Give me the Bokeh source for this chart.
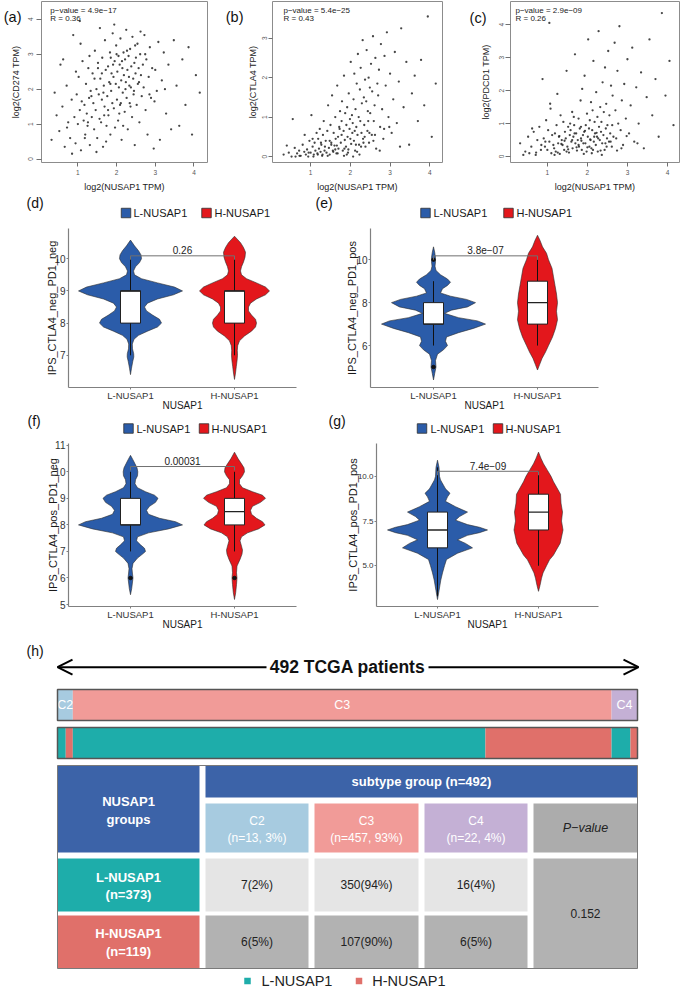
from bokeh.plotting import figure
from bokeh.models import (Range1d, Arrow, OpenHead, FixedTicker, PrintfTickFormatter,
                          LinearAxis, CustomJSTickFormatter)
from bokeh.layouts import column, row
from bokeh.embed import file_html
from bokeh.resources import INLINE
from bokeh.core.properties import value

FONT = "Liberation Sans"

# ---------------- scatter data (a)-(c) ----------------
nusap1_x = [0.32, 0.45, 0.52, 0.60, 0.66, 0.71, 0.75, 0.80, 0.84, 0.88,
            0.91, 0.94, 0.97, 1.00, 1.02, 1.05, 1.08, 1.10, 1.12, 1.15,
            1.17, 1.19, 1.21, 1.23, 1.25, 1.27, 1.29, 1.31, 1.33, 1.36,
            1.38, 1.40, 1.42, 1.44, 1.46, 1.48, 1.50, 1.52, 1.54, 1.56,
            1.58, 1.60, 1.62, 1.63, 1.65, 1.67, 1.69, 1.70, 1.72, 1.74,
            1.76, 1.78, 1.79, 1.81, 1.83, 1.84, 1.86, 1.87, 1.89, 1.90,
            1.92, 1.93, 1.95, 1.96, 1.98, 1.99, 2.01, 2.02, 2.04, 2.05,
            2.06, 2.08, 2.09, 2.10, 2.12, 2.13, 2.15, 2.16, 2.18, 2.19,
            2.21, 2.22, 2.24, 2.25, 2.26, 2.28, 2.29, 2.31, 2.32, 2.34,
            2.35, 2.37, 2.38, 2.40, 2.41, 2.43, 2.44, 2.46, 2.47, 2.49,
            2.50, 2.52, 2.54, 2.55, 2.57, 2.59, 2.61, 2.63, 2.65, 2.68,
            2.70, 2.72, 2.75, 2.77, 2.80, 2.83, 2.86, 2.89, 2.92, 2.96,
            3.00, 3.04, 3.08, 3.12, 3.17, 3.22, 3.28, 3.34, 3.41, 3.48,
            3.55, 3.62, 3.70, 3.78, 3.86, 3.95, 4.05, 4.15, 0.55, 1.05,
            0.72, 0.95, 1.18, 1.35, 1.52, 1.68, 1.85, 2.00, 2.17, 2.33,
            1.30, 1.48, 1.62, 1.78, 1.94, 2.11, 2.27, 2.45, 2.62, 2.85,
            0.40, 0.62, 0.85, 1.07, 1.26, 1.43, 1.57, 1.73, 1.91, 2.07,
            2.14, 2.23, 2.36, 2.48, 2.58, 2.74, 2.98, 3.25, 1.84, 1.66]
cd274_y = [0.55, 1.25, 0.80, 1.50, 0.35, 2.10, 1.05, 0.60, 1.70, 3.55,
           1.20, 0.45, 1.85, 1.00, 2.35, 1.40, 0.25, 1.65, 2.80, 1.10,
           1.55, 0.70, 2.15, 1.30, 0.95, 2.60, 1.75, 0.40, 1.95, 1.20,
           2.45, 1.60, 0.85, 3.10, 1.40, 2.00, 0.60, 2.75, 1.85, 1.15,
           2.30, 1.05, 1.70, 2.90, 0.35, 2.10, 1.50, 3.40, 2.55, 0.95,
           1.80, 2.65, 1.25, 2.20, 3.05, 0.70, 1.95, 2.45, 1.60, 3.60,
           2.35, 1.45, 2.80, 0.90, 2.15, 3.25, 1.70, 2.50, 1.10, 2.95,
           2.05, 2.70, 1.55, 3.45, 2.25, 0.55, 2.60, 1.90, 3.05, 2.40,
           1.35, 2.85, 2.20, 3.70, 1.75, 2.55, 0.85, 2.95, 2.35, 1.60,
           3.15, 2.05, 2.65, 1.20, 3.50, 2.30, 1.85, 2.75, 0.40, 2.45,
           2.90, 1.55, 3.30, 2.15, 2.60, 1.05, 3.00, 2.40, 1.80, 2.70,
           2.05, 3.55, 1.40, 2.85, 0.70, 2.35, 3.20, 1.75, 2.60, 0.30,
           2.55, 1.95, 3.35, 0.55, 2.25, 3.05, 1.30, 2.70, 0.85, 3.40,
           2.10, 0.95, 2.85, 1.55, 3.20, 0.70, 2.40, 1.90, 2.70, 3.95,
           0.90, 2.50, 0.60, 1.80, 2.60, 1.25, 2.90, 3.00, 0.95, 2.10,
           2.95, 0.20, 2.45, 1.40, 3.85, 1.60, 3.10, 1.95, 3.65, 1.85,
           1.90, 2.85, 0.15, 3.30, 1.05, 2.30, 3.75, 0.50, 2.70, 1.30,
           2.80, 2.00, 1.50, 3.25, 2.20, 3.00, 1.65, 2.00, 2.15, 1.90]
ctla4_y = [0.05, 0.10, 0.00, 0.22, 0.08, 0.15, 0.02, 0.30, 0.12, 0.05,
           0.18, 0.00, 0.40, 0.10, 1.05, 0.25, 0.05, 0.35, 0.15, 0.60,
           0.08, 0.45, 0.20, 0.70, 0.12, 0.30, 0.02, 0.55, 0.90, 0.25,
           0.40, 0.10, 0.65, 1.30, 0.22, 0.05, 0.80, 0.35, 1.55, 0.15,
           0.60, 0.28, 1.00, 0.45, 0.08, 1.80, 0.50, 0.20, 0.75, 1.15,
           0.35, 0.90, 1.40, 0.15, 0.65, 2.05, 0.42, 1.10, 0.25, 0.80,
           1.25, 0.50, 0.18, 1.60, 0.70, 0.95, 2.40, 0.32, 1.05, 0.60,
           0.85, 1.45, 0.40, 2.10, 0.15, 1.20, 0.75, 1.85, 0.55, 2.60,
           1.00, 0.30, 1.70, 0.90, 2.25, 0.60, 1.35, 2.95, 0.45, 1.50,
           0.80, 1.95, 0.25, 1.40, 2.70, 0.65, 1.15, 2.00, 0.35, 1.75,
           1.10, 2.35, 0.55, 1.65, 3.05, 0.90, 1.30, 2.50, 0.20, 1.85,
           1.55, 2.20, 0.75, 2.85, 1.20, 0.45, 2.55, 1.80, 3.15, 1.00,
           2.10, 0.60, 1.45, 2.65, 0.85, 1.90, 3.25, 1.25, 2.40, 0.30,
           1.60, 2.05, 0.90, 2.45, 1.30, 3.55, 0.50, 1.85, 0.95, 0.45,
           0.02, 0.10, 0.05, 0.15, 0.30, 0.08, 0.20, 0.45, 0.12, 0.35,
           0.05, 0.40, 0.18, 0.55, 0.10, 0.65, 0.25, 0.90, 0.55, 0.70,
           0.28, 0.00, 0.55, 0.00, 0.35, 0.02, 0.12, 0.70, 0.05, 0.00,
           0.30, 0.05, 0.50, 0.60, 0.40, 0.15, 0.75, 0.25, 0.02, 0.28]
pdcd1_y = [0.40, 0.15, 0.60, 0.30, 0.75, 0.05, 0.50, 0.90, 0.20, 2.35,
           0.55, 0.30, 1.10, 0.20, 0.80, 0.45, 1.45, 0.10, 0.65, 0.35,
           0.25, 0.70, 0.15, 0.95, 1.90, 0.40, 0.60, 0.08, 1.25, 0.50,
           0.35, 1.05, 0.20, 0.75, 0.55, 2.60, 0.30, 0.90, 0.12, 0.65,
           0.80, 0.45, 1.35, 0.25, 0.60, 0.95, 3.10, 0.40, 0.70, 0.18,
           0.50, 1.15, 0.30, 0.85, 1.70, 0.55, 0.20, 2.05, 0.65, 0.40,
           0.75, 2.45, 0.40, 0.95, 0.15, 1.30, 0.60, 3.55, 0.85, 0.30,
           1.10, 0.50, 1.65, 0.25, 0.80, 1.40, 2.90, 0.45, 1.05, 0.70,
           0.35, 1.95, 0.60, 1.20, 0.15, 3.80, 0.90, 0.50, 1.50, 0.75,
           1.05, 0.40, 2.25, 0.65, 1.35, 0.20, 2.70, 0.85, 1.60, 0.55,
           0.95, 3.20, 0.45, 1.25, 0.70, 2.15, 0.30, 1.85, 0.60, 3.45,
           1.40, 0.55, 2.60, 1.00, 3.95, 0.80, 1.70, 0.35, 2.20, 1.15,
           2.95, 0.70, 1.55, 3.30, 0.45, 2.10, 1.00, 2.55, 0.25, 1.80,
           3.55, 1.25, 2.35, 0.60, 4.35, 1.85, 2.90, 0.95, 0.10, 4.05,
           0.12, 0.45, 0.05, 0.38, 0.22, 0.70, 0.48, 0.28, 0.60, 0.18,
           0.62, 0.15, 0.50, 0.35, 0.78, 0.10, 0.55, 0.40, 0.95, 0.25,
           0.05, 0.85, 0.35, 1.60, 0.12, 0.48, 1.00, 0.28, 0.08, 0.52,
           0.20, 0.72, 0.05, 0.30, 0.45, 0.18, 0.62, 0.40, 0.90, 1.20]
scatter_genes = ["CD274", "CTLA4", "PDCD1"]
scatter_pvalues = ["4.9e\u221217", "5.4e\u221225", "2.9e\u221209"]
scatter_r = ["0.36", "0.43", "0.26"]

# ---------------- violin data (d)-(g) ----------------
groups = ["L-NUSAP1", "H-NUSAP1"]
d_low_y = [6.40, 6.60, 6.80, 6.95, 7.05, 7.20, 7.35, 7.50, 7.62, 7.75, 7.88, 8.00, 8.12, 8.25, 8.38, 8.50,
           8.62, 8.75, 8.88, 9.00, 9.12, 9.25, 9.38, 9.50, 9.62, 9.75, 9.88, 10.00, 10.12, 10.25, 10.40, 10.58]
d_low_w = [0, 1.0, 2.2, 3.3, 3.2, 2.0, 1.8, 3.5, 8, 17, 27, 31, 29, 22, 16, 14,
           17, 27, 43, 52, 44, 27, 11, 4, 3, 5, 9, 11, 10.5, 8, 4, 0]
d_high_y = [6.25, 6.45, 6.65, 6.85, 7.00, 7.15, 7.30, 7.45, 7.60, 7.75, 7.88, 8.00, 8.12, 8.25, 8.38, 8.50,
            8.62, 8.75, 8.88, 9.00, 9.12, 9.25, 9.38, 9.50, 9.62, 9.75, 9.90, 10.05, 10.20, 10.35, 10.50, 10.70]
d_high_w = [0, 1.0, 1.8, 2.6, 3.0, 2.8, 3.2, 5, 10, 17, 21, 22, 21, 17, 14, 14,
            16, 22, 31, 35, 31, 22, 12, 7, 6, 7, 9, 10.5, 11, 9, 6, 0]
e_low_y = [4.40, 4.70, 5.00, 5.30, 5.60, 5.80, 6.00, 6.20, 6.40, 6.60, 6.80, 7.00, 7.15, 7.30, 7.50, 7.65,
           7.80, 8.00, 8.15, 8.30, 8.45, 8.65, 8.80, 8.95, 9.10, 9.30, 9.50, 9.70, 9.90, 10.10, 10.35, 10.60]
e_low_w = [0, 1.2, 2.5, 2.0, 4, 10, 14, 12, 13, 25, 40, 52, 44, 25, 11, 18,
           34, 42, 33, 17, 7, 9, 14, 17, 14, 7, 2.5, 1.5, 2.0, 2.0, 1.2, 0]
e_high_y = [4.86, 5.10, 5.40, 5.70, 6.00, 6.40, 6.80, 7.20, 7.60, 8.00, 8.40, 8.80, 9.20, 9.60, 10.00,
            10.30, 10.60, 10.90, 11.14]
e_high_w = [0, 2, 4.5, 8, 11, 15, 18, 20, 19, 20, 19, 17.5, 16, 14.5, 11, 9, 5, 2.5, 0]
f_low_y = [5.37, 5.60, 5.85, 6.00, 6.15, 6.35, 6.55, 6.75, 6.90, 7.00, 7.12, 7.25, 7.40, 7.55, 7.70, 7.85,
           8.00, 8.12, 8.25, 8.40, 8.55, 8.70, 8.85, 9.00, 9.12, 9.25, 9.40, 9.55, 9.70, 9.85, 10.00, 10.15,
           10.30, 10.45, 10.62]
f_low_w = [0, 1.2, 2.0, 2.5, 2.0, 1.5, 2.5, 7, 12, 15, 14, 10, 6, 7, 18, 38,
           52, 45, 29, 18, 16, 19, 25, 27.5, 24, 15, 7, 4.5, 5, 7, 7.3, 6.5,
           4.5, 2.5, 0]
f_high_y = [5.19, 5.45, 5.75, 6.00, 6.20, 6.45, 6.70, 6.90, 7.05, 7.20, 7.40, 7.55, 7.70, 7.85, 8.00, 8.12,
            8.25, 8.40, 8.55, 8.70, 8.85, 9.00, 9.12, 9.25, 9.40, 9.55, 9.70, 9.85, 10.00, 10.15, 10.30,
            10.50, 10.74]
f_high_w = [0, 1.2, 2.0, 2.5, 2.0, 2.5, 5.5, 7.5, 8, 7, 5.5, 7, 13, 24, 30.5, 28,
            22, 17, 16, 18, 26, 31, 28, 18, 8, 5, 5, 8, 10, 9.5, 7,
            3.5, 0]
g_low_y = [3.11, 3.60, 4.20, 4.60, 5.00, 5.35, 5.70, 6.00, 6.25, 6.45, 6.70, 6.85, 7.00, 7.15, 7.30, 7.55,
           7.75, 8.00, 8.30, 8.60, 8.85, 9.05, 9.30, 9.50, 9.80, 10.00, 10.50, 10.90]
g_low_w = [0, 1.5, 3.3, 5, 7, 9, 20, 35, 28, 20, 30, 42, 50, 42, 30, 18,
           22, 30, 18, 8, 10, 12.5, 8, 6, 3, 2, 1.5, 0]
g_high_y = [3.57, 3.90, 4.30, 4.60, 5.00, 5.33, 5.60, 5.90, 6.26, 6.60, 7.00, 7.50, 8.00, 8.50, 9.00,
            9.40, 9.70, 10.00, 10.33, 10.70, 11.00, 11.35]
g_high_w = [0, 1.5, 3, 4.5, 8, 11, 15, 18, 21.7, 23, 24.5, 23, 24, 22.5, 22,
            18, 15, 12.5, 9, 5, 2.5, 0]
# box stats: whisker low, q1, median, q3, whisker high
d_low_box = [7, 8, 9, 9, 10]
d_high_box = [7, 8, 9, 9, 10]
e_low_box = [6, 7, 7, 8, 9]
e_high_box = [6, 7, 8, 9, 10]
f_low_box = [7, 8, 8, 9, 10]
f_high_box = [7, 8, 8.5, 9, 10]
g_low_box = [3.3, 6, 7, 8, 10.5]
g_high_box = [5, 7, 8, 9, 10.3]
d_low_out, d_high_out = [], []
e_low_out, e_high_out = [10, 5], []
f_low_out, f_high_out = [6], [6]
g_low_out, g_high_out = [], []
violin_pvalues = ["0.26", "3.8e\u221207", "0.00031", "7.4e\u221209"]
violin_ylabels = ["IPS_CTLA4_neg_PD1_neg", "IPS_CTLA4_neg_PD1_pos",
                  "IPS_CTLA4_pos_PD1_neg", "IPS_CTLA4_pos_PD1_pos"]
bracket_levels = [10.09, 10.18, 10.2, 10.28]

# ---------------- subtype data (h) ----------------
subtypes = ["C2", "C3", "C4"]
subtype_n = [13, 457, 22]
low_n = [7, 350, 16]
high_n = [6, 107, 6]
chisq_p = "0.152"

BLUE = "#2b5ca9"
RED = "#e3171c"
TEAL = "#1eadaa"
SALMON = "#e0706a"
SUB_COLORS = ["#a7cbe0", "#f19b98", "#c4b0d5"]
HEAD_BLUE = "#3c63a8"


def base_fig(width, height, xr, yr, left, right, top, bottom):
    p = figure(width=width, height=height, x_range=Range1d(*xr), y_range=Range1d(*yr),
               min_border_left=left, min_border_right=right, min_border_top=top,
               min_border_bottom=bottom, output_backend="svg", toolbar_location=None, title=None)
    p.xgrid.visible = False
    p.ygrid.visible = False
    p.background_fill_color = "white"
    p.border_fill_color = "white"
    return p


def scatter_fig(ys, gene, pv, rv, xr, yr, yticks, tag, tag_ry, tag_standoff, stat_rx,
                fig_x0, width, left, right, y_tick_out, y_lab_standoff, y_axis_standoff):
    top, bottom, height = 1, 31, 194
    fx0, fx1 = fig_x0 + left, fig_x0 + width - right
    fy0, fy1 = top, height - bottom
    def dx(r): return xr[0] + (r - fx0) * (xr[1] - xr[0]) / (fx1 - fx0)
    def dy(r): return yr[1] - (r - fy0) * (yr[1] - yr[0]) / (fy1 - fy0)
    p = base_fig(width, height, xr, yr, left, right, top, bottom)
    p.outline_line_color = "#8c8c8c"
    p.outline_line_width = 1
    p.scatter(x=nusap1_x, y=ys, size=2.3, marker="circle", fill_color="#262626",
              line_color=None, fill_alpha=0.85)
    p.text(x=[dx(stat_rx), dx(stat_rx)], y=[dy(10), dy(18.5)],
           text=["p\u2212value = " + pv, "R = " + rv], text_font=value(FONT),
           text_font_size="8px", text_align="left", text_baseline="middle", text_color="#222222")
    xa, ya = p.xaxis[0], p.yaxis[0]
    xa.ticker = FixedTicker(ticks=[1, 2, 3, 4])
    ya.ticker = FixedTicker(ticks=yticks)
    for ax in (xa, ya):
        ax.axis_line_color = None
        ax.major_tick_line_color = "#707070"
        ax.minor_tick_line_color = None
        ax.major_tick_in = 0
        ax.major_label_text_font = FONT
        ax.major_label_text_font_size = "6.5px"
        ax.major_label_text_color = "#555555"
        ax.axis_label_text_font = FONT
        ax.axis_label_text_font_size = "9px"
        ax.axis_label_text_font_style = "normal"
        ax.axis_label_text_color = "#222222"
    xa.major_tick_out = 4
    xa.major_label_standoff = 3
    xa.axis_label_standoff = 4
    xa.axis_label = "log2(NUSAP1 TPM)"
    ya.major_tick_out = y_tick_out
    ya.major_label_standoff = y_lab_standoff
    ya.axis_label_standoff = y_axis_standoff
    ya.major_label_orientation = "vertical"
    ya.axis_label = "log2(%s TPM)" % gene
    # panel letter, shown as the single label of an outer left axis
    tag_axis = LinearAxis(ticker=FixedTicker(ticks=[dy(tag_ry)]),
                          formatter=CustomJSTickFormatter(code="return %r;" % tag),
                          axis_line_color=None, major_tick_line_color=None, minor_tick_line_color=None,
                          major_tick_in=0, major_tick_out=0, major_label_standoff=tag_standoff,
                          major_label_text_font=FONT, major_label_text_font_size="14.5px",
                          major_label_text_color="#111111")
    p.add_layout(tag_axis, "left")
    return p


def violin_fig(fig_x0, width, height, left, right, top, bottom,
               lref, spacing, v0, r0, ppu, frame_top_r, frame_bottom_r, yticks, tick_size, ylabel, y_standoff,
               low_y, low_w, high_y, high_w, low_box, high_box, low_out, high_out,
               bracket_y, ptext, fmt=None):
    fx0, fx1 = fig_x0 + left, fig_x0 + width - right
    def xval(r): return 1 + (r - lref) / spacing
    def yval(r): return v0 + (r0 - r) / ppu
    xr = (xval(fx0), xval(fx1))
    yr = (yval(frame_bottom_r), yval(frame_top_r))
    p = base_fig(width, height, xr, yr, left, right, top, bottom)
    p.outline_line_color = None
    bw = 10.0 / spacing
    for c, ys, ws, col, b, out in ((1, low_y, low_w, BLUE, low_box, low_out),
                                   (2, high_y, high_w, RED, high_box, high_out)):
        xs = [c + w / spacing for w in ws] + [c - w / spacing for w in ws[::-1]]
        yy = list(ys) + list(ys[::-1])
        p.patch(xs, yy, fill_color=col, line_color="#2b2b2b", line_width=0.6)
        p.segment(x0=[c, c], y0=[b[0], b[3]], x1=[c, c], y1=[b[1], b[4]],
                  line_color="#111111", line_width=1)
        p.quad(left=[c - bw], right=[c + bw], bottom=[b[1]], top=[b[3]],
               fill_color="white", line_color="#222222", line_width=1)
        p.segment(x0=[c - bw], y0=[b[2]], x1=[c + bw], y1=[b[2]], line_color="#222222", line_width=1.4)
        if out:
            p.scatter(x=[c] * len(out), y=out, size=3.5, marker="circle", color="#111111")
    tip = 4.0 / ppu
    p.line([1, 1, 2, 2], [bracket_y - tip, bracket_y, bracket_y, bracket_y - tip],
           line_color="#707070", line_width=1)
    p.text(x=[1.5], y=[bracket_y + 1.5 / ppu], text=[ptext], text_font=value(FONT), text_font_size="10px",
           text_align="center", text_baseline="bottom", text_color="#222222")
    xa, ya = p.xaxis[0], p.yaxis[0]
    xa.ticker = FixedTicker(ticks=[1, 2])
    xa.major_label_overrides = {1: groups[0], 2: groups[1]}
    ya.ticker = FixedTicker(ticks=yticks)
    if fmt:
        ya.formatter = PrintfTickFormatter(format=fmt)
    for ax in (xa, ya):
        ax.axis_line_color = "#808080"
        ax.axis_line_width = 1.2
        ax.major_tick_line_color = "#808080"
        ax.major_tick_in = 0
        ax.major_tick_out = 2
        ax.minor_tick_line_color = None
        ax.major_label_text_font = FONT
        ax.major_label_text_color = "#333333"
        ax.axis_label_text_font = FONT
        ax.axis_label_text_font_style = "normal"
        ax.axis_label_text_color = "#1a1a1a"
    xa.major_label_standoff = 0
    xa.major_label_text_font_size = "9.5px"
    xa.axis_label = "NUSAP1"
    xa.axis_label_text_font_size = "10px"
    xa.axis_label_standoff = -4
    ya.major_label_standoff = 1
    ya.major_label_text_font_size = tick_size
    ya.axis_label = ylabel
    ya.axis_label_text_font_size = "11px"
    ya.axis_label_standoff = y_standoff
    return p


def strip_fig(top_r, height, tags, legends):
    s = figure(width=680, height=height, x_range=Range1d(0, 680), y_range=Range1d(height, 0),
               min_border=0, x_axis_location=None, y_axis_location=None,
               output_backend="svg", toolbar_location=None, title=None)
    s.grid.visible = False
    s.outline_line_color = None
    s.border_fill_color = "white"
    s.text(x=[t[0] for t in tags], y=[t[1] - top_r for t in tags], text=[t[2] for t in tags],
           text_font=value(FONT), text_font_size="14px", text_align="left", text_baseline="middle",
           text_color="#111111")
    for bx, rx, ly, ltx, htx in legends:
        s.scatter(x=[bx, rx], y=[ly - top_r] * 2, marker="square", size=9.5,
                  fill_color=[BLUE, RED], line_color="#303030", line_width=0.8)
        s.text(x=[ltx, htx], y=[ly - top_r] * 2, text=groups, text_font=value(FONT),
               text_font_size="11px", text_align="left", text_baseline="middle", text_color="#1a1a1a")
    return s


# ---------------- row 1 : scatter ----------------
sa = scatter_fig(cd274_y, scatter_genes[0], scatter_pvalues[0], scatter_r[0], (0.06, 4.35), (-0.10, 4.51),
                 [0, 1, 2, 3, 4], "(a)", 16.5, -14, 46, 0, 222, 37, 15, 5, 3, 5)
sb = scatter_fig(ctla4_y, scatter_genes[1], scatter_pvalues[1], scatter_r[1], (0.04, 4.32), (-0.15, 3.93),
                 [0, 1, 2, 3], "(b)", 16.5, 1, 283, 222, 238, 50, 18, 4, 1, 2)
sc = scatter_fig(pdcd1_y, scatter_genes[2], scatter_pvalues[2], scatter_r[2], (0.08, 4.30), (-0.18, 4.70),
                 [0, 1, 2, 3, 4], "(c)", 18, -9, 515, 460, 220, 50, 1, 5, 1, 6)

# ---------------- rows 2-3 : violins ----------------
s2 = strip_fig(194, 27, [(26, 202.5, "(d)"), (315, 202, "(e)")],
               [(125.5, 206, 212.5, 133, 214), (425, 508, 212.5, 433, 516)])
vd = violin_fig(0, 310, 192, 68, 14, 7, 22, 130, 104, 7, 358, 33, 228, 391, [7, 8, 9, 10], "10px",
                violin_ylabels[0], -7, d_low_y, d_low_w, d_high_y, d_high_w, d_low_box, d_high_box,
                d_low_out, d_high_out, bracket_levels[0], violin_pvalues[0])
ve = violin_fig(310, 370, 192, 60, 82, 7, 22, 433, 104, 6, 348, 22, 228, 391, [6, 8, 10], "10px",
                violin_ylabels[1], -5, e_low_y, e_low_w, e_high_y, e_high_w, e_low_box, e_high_box,
                e_low_out, e_high_out, bracket_levels[1], violin_pvalues[1])
s3 = strip_fig(413, 23, [(27, 420, "(f)"), (328, 420, "(g)")],
               [(128, 203.5, 428, 136, 211), (421.5, 497.5, 428, 430, 505)])
vf = violin_fig(0, 310, 196, 68, 14, 7, 25, 130, 104, 5, 605, 26.7, 443, 607, [5, 6, 7, 8, 9, 10, 11], "10px",
                violin_ylabels[2], -8, f_low_y, f_low_w, f_high_y, f_high_w, f_low_box, f_high_box,
                f_low_out, f_high_out, bracket_levels[2], violin_pvalues[2])
vg = violin_fig(310, 370, 196, 66, 82, 7, 25, 437, 101, 5, 566, 18, 443, 607, [5, 7.5, 10], "8px",
                violin_ylabels[3], -4, g_low_y, g_low_w, g_high_y, g_high_w, g_low_box, g_high_box,
                g_low_out, g_high_out, bracket_levels[3], violin_pvalues[3], fmt="%.1f")

# ---------------- row 4 : subtype bars + table ----------------
H_Y0, H_H = 632, 359
total = sum(subtype_n)
low_total, high_total = sum(low_n), sum(high_n)
BAR_L, BAR_R = 57, 637
PPP = (BAR_R - BAR_L) / total
def hx(r): return (r - BAR_L) / PPP
def hy(r): return r - H_Y0

hf = figure(width=680, height=H_H, x_range=Range1d(hx(0), hx(680)), y_range=Range1d(H_H, 0),
            min_border=0, x_axis_location=None, y_axis_location=None,
            output_backend="svg", toolbar_location=None, title=None)
hf.grid.visible = False
hf.outline_line_color = None
hf.background_fill_color = "white"
hf.border_fill_color = "white"

def htext(xs, ys, texts, size, color="#222222", style="normal", align="center"):
    hf.text(x=xs, y=ys, text=texts, text_font=value(FONT), text_font_size=size, text_color=color,
            text_font_style=style, text_align=align, text_baseline="middle")

htext([hx(26)], [hy(650)], ["(h)"], "14px", "#111111", align="left")

ay = hy(666.7)
for xs_, xe_ in ((hx(266), hx(57)), (hx(428), hx(638))):
    hf.add_layout(Arrow(end=OpenHead(size=15, line_width=2, line_color="black"),
                        x_start=xs_, y_start=ay, x_end=xe_, y_end=ay, line_width=2, line_color="black"))
htext([hx(347)], [ay], ["%d TCGA patients" % total], "17.5px", "#111111", "bold")

cum = [0]
for n in subtype_n:
    cum.append(cum[-1] + n)
hf.quad(left=cum[:-1], right=cum[1:], top=[hy(689)] * 3, bottom=[hy(720)] * 3,
        fill_color=SUB_COLORS, line_color=None)
htext([(cum[i] + cum[i + 1]) / 2 for i in range(3)], [hy(704.5)] * 3, subtypes, "12.5px", "white")

lefts, rights, cols = [], [], []
pos = 0
for i in range(3):
    for n, col in ((low_n[i], TEAL), (high_n[i], SALMON)):
        lefts.append(pos); rights.append(pos + n); cols.append(col); pos += n
hf.quad(left=lefts, right=rights, top=[hy(727)] * len(lefts), bottom=[hy(758)] * len(lefts),
        fill_color=cols, line_color=None)
hf.quad(left=[0, 0], right=[total, total], top=[hy(689), hy(727)], bottom=[hy(720), hy(758)],
        fill_color=None, line_color="#555555", line_width=1.5)

cols_r = [(57, 199), (205, 308), (314, 418), (424, 527), (533, 637)]
rows_r = [(765, 797), (803, 852), (858, 911), (915, 968)]
cells = []
cells.append((cols_r[0][0], cols_r[0][1], rows_r[0][0], rows_r[1][1], HEAD_BLUE))
cells.append((cols_r[1][0], cols_r[4][1], rows_r[0][0], rows_r[0][1], HEAD_BLUE))
for i in range(3):
    cells.append((cols_r[i + 1][0], cols_r[i + 1][1], rows_r[1][0], rows_r[1][1], SUB_COLORS[i]))
    cells.append((cols_r[i + 1][0], cols_r[i + 1][1], rows_r[2][0], rows_r[2][1], "#e5e5e5"))
    cells.append((cols_r[i + 1][0], cols_r[i + 1][1], rows_r[3][0], rows_r[3][1], "#b2b2b2"))
cells.append((cols_r[4][0], cols_r[4][1], rows_r[1][0], rows_r[1][1], "#acacac"))
cells.append((cols_r[4][0], cols_r[4][1], rows_r[2][0], rows_r[3][1], "#b2b2b2"))
cells.append((cols_r[0][0], cols_r[0][1], rows_r[2][0], rows_r[2][1], TEAL))
cells.append((cols_r[0][0], cols_r[0][1], rows_r[3][0], rows_r[3][1], SALMON))
hf.quad(left=[hx(c[0]) for c in cells], right=[hx(c[1]) for c in cells],
        top=[hy(c[2]) for c in cells], bottom=[hy(c[3]) for c in cells],
        fill_color=[c[4] for c in cells], line_color=None)
hf.quad(left=[hx(57)], right=[hx(637)], top=[hy(765)], bottom=[hy(968)],
        fill_color=None, line_color="#7a7a7a", line_width=1)

def cx(i): return hx((cols_r[i][0] + cols_r[i][1]) / 2)

htext([cx(0), cx(0)], [hy(801), hy(819)], ["NUSAP1", "groups"], "13px", "white", "bold")
htext([hx(421)], [hy(781)], ["subtype group (n=%d)" % total], "13px", "white", "bold")
htext([cx(i + 1) for i in range(3)], [hy(820)] * 3, subtypes, "12px", "white")
htext([cx(i + 1) for i in range(3)], [hy(837)] * 3,
      ["(n=%d, %d%%)" % (subtype_n[i], round(100 * subtype_n[i] / total)) for i in range(3)], "12px", "white")
htext([cx(4)], [hy(827.5)], ["P\u2212value"], "12.5px", "#222222", "italic")
htext([cx(0), cx(0)], [hy(877), hy(894)], [groups[0], "(n=%d)" % low_total], "13px", "white", "bold")
htext([cx(0), cx(0)], [hy(933), hy(951)], [groups[1], "(n=%d)" % high_total], "13px", "white", "bold")
htext([cx(i + 1) for i in range(3)], [hy(884.5)] * 3,
      ["%d(%d%%)" % (low_n[i], round(100 * low_n[i] / low_total)) for i in range(3)], "12px")
htext([cx(i + 1) for i in range(3)], [hy(941.5)] * 3,
      ["%d(%d%%)" % (high_n[i], round(100 * high_n[i] / high_total)) for i in range(3)], "12px")
htext([cx(4)], [hy(913)], [chisq_p], "12px")

hf.scatter(x=[hx(247), hx(358.5)], y=[hy(980.5)] * 2, marker="square", size=6.5,
           fill_color=[TEAL, SALMON], line_color=None)
htext([hx(261), hx(371.7)], [hy(980.5)] * 2, groups, "14.5px", "#222222", align="left")

layout = column(row(sa, sb, sc), s2, row(vd, ve), s3, row(vf, vg), hf)
open("out.html", "w").write(file_html(layout, INLINE))
